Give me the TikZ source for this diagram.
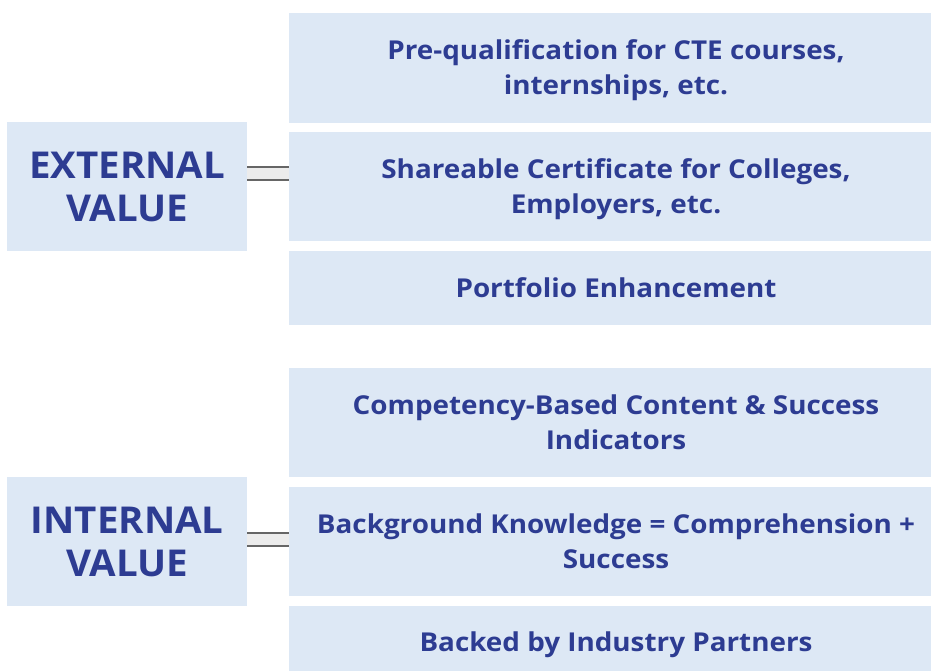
\documentclass[tikz,border=0pt]{standalone}
\usepackage{fontspec}
\setmainfont{Open Sans}
\newfontfamily\rfont[FakeStretch=1.07]{Open Sans}
\newfontfamily\lfont[FakeStretch=1.04]{Open Sans}
\definecolor{boxfill}{HTML}{DDE8F5}
\definecolor{txt}{HTML}{2D3C92}
\definecolor{lineout}{HTML}{666666}
\definecolor{linein}{HTML}{ECECEC}
\tikzset{
  rtext/.style={text=txt, align=center, inner sep=0pt, font=\rfont\fontsize{26}{35}\selectfont\bfseries},
  lbox/.style={fill=boxfill, draw=none, anchor=north west, minimum width=240pt, minimum height=129pt,
    inner sep=0pt, text=txt, align=center, font=\lfont\fontsize{37}{43}\selectfont\bfseries},
  conn/.style={draw=lineout, line width=2pt, double=linein, double distance=11pt}
}
\begin{document}
\begin{tikzpicture}[x=1pt,y=1pt]
\useasboundingbox (0,0) rectangle (931,-671);
\clip (0,0) rectangle (931,-671);
\fill[boxfill] (289,-13) rectangle (931,-123);
\fill[boxfill] (289,-132) rectangle (931,-241);
\fill[boxfill] (289,-251) rectangle (931,-325);
\fill[boxfill] (289,-368) rectangle (931,-477);
\fill[boxfill] (289,-487) rectangle (931,-596);
\fill[boxfill] (289,-606) rectangle (931,-680);
\node[rtext] (b1) at (616,-70) {Pre-qualification for CTE courses,\\internships, etc.};
\node[rtext] (b2) at (616,-189) {Shareable Certificate for Colleges,\\Employers, etc.};
\node[rtext] (b3) at (616,-288) {Portfolio Enhancement};
\node[rtext] (b4) at (616,-422) {Competency-Based Content \& Success\\Indicators};
\node[rtext] (b5) at (616,-541) {Background Knowledge = Comprehension +\\Success};
\node[rtext] (b6) at (616,-645) {Backed by Industry Partners};
\node[lbox] (ext) at (7,-122) {EXTERNAL\\VALUE};
\node[lbox] (int) at (7,-477) {INTERNAL\\VALUE};
\coordinate (e2) at (289,-174);
\coordinate (i2) at (289,-539);
\draw[conn] (ext.east |- e2) -- (e2);
\draw[conn] (int.east |- i2) -- (i2);
\end{tikzpicture}
\end{document}
